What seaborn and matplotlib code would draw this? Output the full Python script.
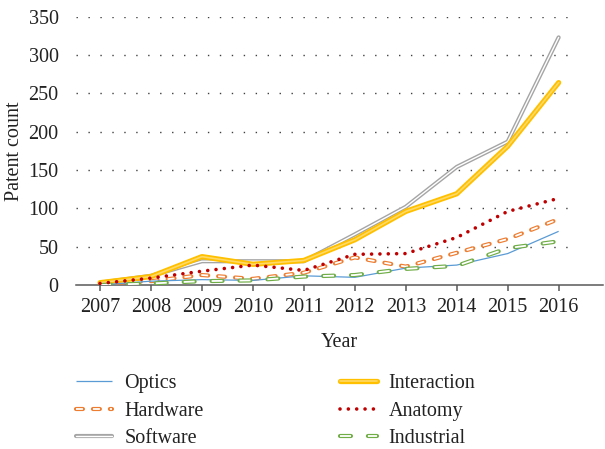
import numpy as np
import pandas as pd
import matplotlib
matplotlib.use("Agg")
import matplotlib.pyplot as plt
import matplotlib.patheffects as pe
import seaborn as sns

years = [2007, 2008, 2009, 2010, 2011, 2012, 2013, 2014, 2015, 2016]
optics = [0, 5, 7, 6, 12, 10, 22, 26, 41, 70]
hardware = [2, 5, 13, 8, 16, 36, 24, 42, 60, 86]
software = [3, 12, 31, 31, 31, 66, 102, 154, 187, 323]
interaction = [3, 11, 37, 27, 32, 59, 96, 119, 181, 264]
anatomy = [2, 9, 18, 26, 19, 40, 41, 62, 96, 113]
industrial = [0, 2, 5, 6, 11, 13, 21, 25, 48, 57]
yticks = [0, 50, 100, 150, 200, 250, 300, 350]

sns.set_theme(style="white")
plt.rcParams['font.family'] = ['Liberation Serif', 'DejaVu Serif']
plt.rcParams['lines.scale_dashes'] = False

FS = 14.5
fig = plt.figure(figsize=(6.05, 4.49), dpi=100)
AX_L, AX_R = 76, 603
ax = fig.add_axes([AX_L/605, 1 - 285/449, (AX_R-AX_L)/605, (285-16.7)/449])

W = 605
def xval(px):
    return 2007 + (px - 100) / 50.96

# gridlines
for yt in yticks[1:]:
    ax.hlines(yt, xval(76), xval(574), colors='#404040', linewidth=1.0,
              linestyles=(0, (1, 7.6)), zorder=0)

series = [
    ("Optics", optics), ("Hardware", hardware), ("Software", software),
    ("Interaction", interaction), ("Anatomy", anatomy), ("Industrial", industrial),
]
handles = []
for name, vals in series:
    before = len(ax.lines)
    sns.lineplot(x=years, y=vals, ax=ax, label=name, legend=False)
    handles.append(ax.lines[before])

def style(line, color, lw, ls, inner=None, inner_lw=None, cap='butt', outer_cap=None):
    line.set_color(color if inner is None else inner)
    line.set_linewidth(lw if inner is None else inner_lw)
    line.set_linestyle(ls)
    line.set_dash_capstyle(cap)
    line.set_solid_capstyle(cap)
    if inner is not None:
        line.set_path_effects([
            pe.Stroke(linewidth=lw, foreground=color, capstyle=outer_cap or cap),
            pe.Normal(),
        ])

style(handles[0], '#5B9BD5', 0.9, '-')
style(handles[1], '#ED7D31', 3.0, (0, (5, 7.2)), inner='white', inner_lw=1.3,
      cap='butt', outer_cap='round')
style(handles[2], '#A5A5A5', 3.0, '-', inner='white', inner_lw=1.0, cap='round')
style(handles[3], '#FFC000', 3.8, '-', inner='#FFD966', inner_lw=1.2, cap='round')
style(handles[4], '#C00000', 2.6, (0, (0.01, 6.0)), cap='round')
style(handles[5], '#70AD47', 3.0, (0, (7.9, 12.2)), inner='white', inner_lw=1.3,
      cap='butt', outer_cap='round')

for i, h in enumerate(handles):
    h.set_zorder([5, 3, 4, 4.5, 6, 5.5][i])

ax.set_xlim(xval(AX_L), xval(AX_R))
ax.set_ylim(0, 350)
ax.set_xticks(years)
ax.set_xticklabels([str(y) for y in years])
ax.set_yticks(yticks)
for s in ['top', 'right', 'left']:
    ax.spines[s].set_visible(False)
ax.spines['bottom'].set_color('#595959')
ax.spines['bottom'].set_linewidth(1.1)
ax.tick_params(axis='x', which='both', bottom=True, length=4, width=1.1,
               color='#595959', labelsize=FS, pad=5, labelcolor='#222222')
ax.tick_params(axis='y', left=False, labelsize=FS, pad=6.5, labelcolor='#222222')
ax.set_xlabel("Year", fontsize=FS, color='#222222', labelpad=12)
ax.set_ylabel("Patent count", fontsize=FS, color='#222222')
ax.yaxis.set_label_coords((15 - AX_L) / (AX_R - AX_L), 0.5)
ax.yaxis.label.set_verticalalignment('center')
ax.grid(False)

leg = fig.legend(handles=handles, labels=[n for n, _ in series], ncol=2,
                 loc='upper left', bbox_to_anchor=(76/W, 1 - 374/449),
                 frameon=False, fontsize=FS, handlelength=1.79,
                 handletextpad=0.6, columnspacing=6.8, labelspacing=0.42,
                 borderaxespad=0, borderpad=0)
for t in leg.get_texts():
    t.set_color('#222222')

fig.savefig("out.png", dpi=100)
